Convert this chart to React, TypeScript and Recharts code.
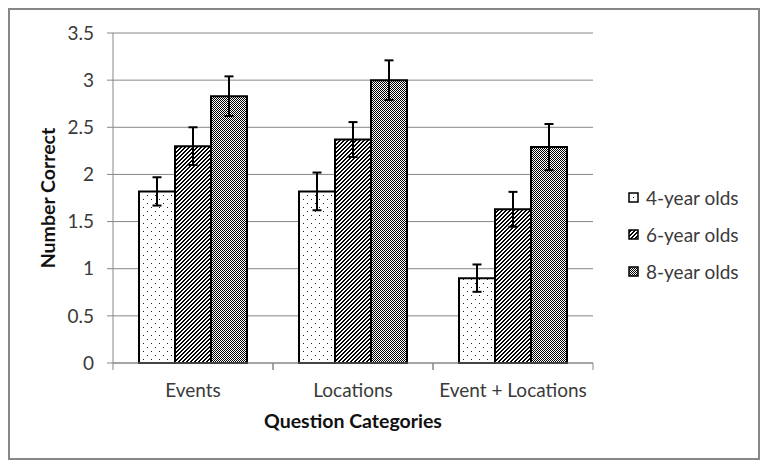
import React from 'react';
import { BarChart, Bar, XAxis, YAxis, CartesianGrid, ErrorBar, Legend, Label } from 'recharts';

const categories = ['Events', 'Locations', 'Event + Locations'];
const seriesNames = ['4-year olds', '6-year olds', '8-year olds'];
const fourYear = [1.82, 1.82, 0.9];
const sixYear = [2.3, 2.37, 1.63];
const eightYear = [2.83, 3.0, 2.29];
const fourErr = [0.15, 0.2, 0.145];
const sixErr = [0.2, 0.185, 0.185];
const eightErr = [0.21, 0.21, 0.245];
const yTicks = [0, 0.5, 1, 1.5, 2, 2.5, 3, 3.5];

const data = categories.map((c, i) => ({
  category: c,
  four: fourYear[i],
  six: sixYear[i],
  eight: eightYear[i],
  fourErr: fourErr[i],
  sixErr: sixErr[i],
  eightErr: eightErr[i],
}));

const W = 748;
const H = 448;
const Y_AXIS_W = 103;
const MARGIN = { top: 23, right: 165, bottom: 30, left: 0 };
const X_AXIS_H = 65;
const PLOT_W = W - Y_AXIS_W - MARGIN.right - MARGIN.left;
const HALF_BAND = PLOT_W / categories.length / 2;
const TICK_SIZE = 7;
const TICK_MARGIN = 14;

const FONT = "Lato, 'Open Sans', sans-serif";
const TEXT = '#3a3a3a';
const GRID = '#878787';
const FS = 19;
const TITLE_FS = 19.5;
const patternIds = ['pDots', 'pDiag', 'pCheck'];

const XTick = (props: any) => {
  const { x, y, payload } = props;
  const top = y - TICK_MARGIN - TICK_SIZE;
  return (
    <g>
      <line x1={x - HALF_BAND} x2={x - HALF_BAND} y1={top} y2={top + TICK_SIZE} stroke={GRID} strokeWidth={1} />
      <line x1={x + HALF_BAND} x2={x + HALF_BAND} y1={top} y2={top + TICK_SIZE} stroke={GRID} strokeWidth={1} />
      <text x={x} y={y} dy="0.68em" textAnchor="middle" fill={TEXT} fontSize={FS} fontFamily={FONT}>
        {payload.value}
      </text>
    </g>
  );
};

const LegendContent = () => (
  <div style={{ display: 'flex', flexDirection: 'column' }}>
    {seriesNames.map((n, i) => (
      <div
        key={n}
        style={{ display: 'flex', alignItems: 'center', height: 37, fontFamily: FONT, fontSize: FS, color: TEXT, whiteSpace: 'nowrap' }}
      >
        <svg width={11} height={11} style={{ marginRight: 7, flex: 'none' }}>
          <rect x={1} y={1} width={9} height={9} fill={`url(#${patternIds[i]})`} stroke="#000" strokeWidth={1.5} />
        </svg>
        {n}
      </div>
    ))}
  </div>
);

export default function App() {
  return (
    <div style={{ width: W, height: H, border: `2px solid ${GRID}`, fontFamily: FONT, background: '#fff' }}>
      <BarChart width={W} height={H} data={data} margin={MARGIN} barCategoryGap="16.25%" barGap={0}>
        <defs>
          <pattern id="pDots" patternUnits="userSpaceOnUse" width={8} height={8}>
            <rect width={8} height={8} fill="#fff" />
            <rect x={1} y={1} width={1} height={1} fill="#222" />
            <rect x={5} y={5} width={1} height={1} fill="#222" />
          </pattern>
          <pattern id="pDiag" patternUnits="userSpaceOnUse" width={4} height={4}>
            <rect width={4} height={4} fill="#fff" />
            <rect x={3} y={0} width={1} height={1} fill="#000" />
            <rect x={0} y={0} width={1} height={1} fill="#000" />
            <rect x={2} y={1} width={2} height={1} fill="#000" />
            <rect x={1} y={2} width={2} height={1} fill="#000" />
            <rect x={0} y={3} width={2} height={1} fill="#000" />
          </pattern>
          <pattern id="pCheck" patternUnits="userSpaceOnUse" width={2} height={2}>
            <rect width={2} height={2} fill="#fff" />
            <rect x={0} y={0} width={1} height={1} fill="#000" />
            <rect x={1} y={1} width={1} height={1} fill="#000" />
          </pattern>
        </defs>
        <CartesianGrid vertical={false} stroke={GRID} strokeWidth={1} />
        <XAxis
          dataKey="category"
          height={X_AXIS_H}
          axisLine={{ stroke: GRID }}
          tickLine={false}
          tickSize={TICK_SIZE}
          tickMargin={TICK_MARGIN}
          tick={<XTick />}
          interval={0}
        >
          <Label
            value="Question Categories"
            position="insideBottom"
            offset={0}
            style={{ fontFamily: FONT, fontSize: TITLE_FS, fontWeight: 700, fill: '#111' }}
          />
        </XAxis>
        <YAxis
          width={Y_AXIS_W}
          domain={[0, 3.5]}
          ticks={yTicks}
          axisLine={{ stroke: GRID }}
          tickLine={{ stroke: GRID }}
          tickSize={6}
          tickMargin={13}
          tick={{ fontSize: FS, fill: TEXT, fontFamily: FONT }}
          interval={0}
        >
          <Label
            content={(p: any) => {
              const vb = p.viewBox || { x: 0, y: 0, width: 0, height: 0 };
              const cx = vb.x + 37;
              const cy = vb.y + vb.height / 2;
              return (
                <text
                  transform={`translate(${cx}, ${cy}) rotate(-90)`}
                  textAnchor="middle"
                  dominantBaseline="central"
                  fontFamily={FONT}
                  fontSize={TITLE_FS}
                  fontWeight={700}
                  fill="#111"
                >
                  Number Correct
                </text>
              );
            }}
          />
        </YAxis>
        <Legend
          layout="vertical"
          align="center"
          verticalAlign="middle"
          content={<LegendContent />}
          wrapperStyle={{ left: 618, top: 168.5, width: 130 }}
        />
        <Bar dataKey="four" name={seriesNames[0]} fill="url(#pDots)" stroke="#000" strokeWidth={2} isAnimationActive={false}>
          <ErrorBar dataKey="fourErr" width={4.5} stroke="#000" strokeWidth={2} direction="y" />
        </Bar>
        <Bar dataKey="six" name={seriesNames[1]} fill="url(#pDiag)" stroke="#000" strokeWidth={2} isAnimationActive={false}>
          <ErrorBar dataKey="sixErr" width={4.5} stroke="#000" strokeWidth={2} direction="y" />
        </Bar>
        <Bar dataKey="eight" name={seriesNames[2]} fill="url(#pCheck)" stroke="#000" strokeWidth={2} isAnimationActive={false}>
          <ErrorBar dataKey="eightErr" width={4.5} stroke="#000" strokeWidth={2} direction="y" />
        </Bar>
      </BarChart>
    </div>
  );
}
